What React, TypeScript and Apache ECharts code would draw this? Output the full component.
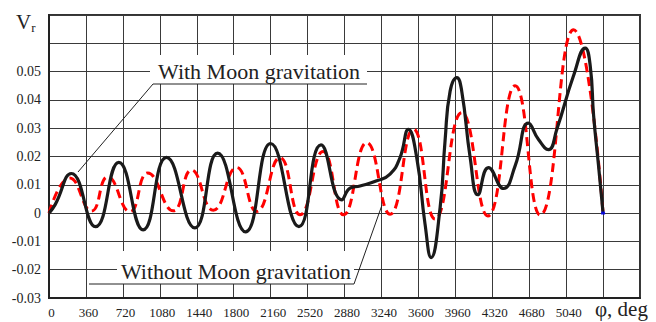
import React, { useEffect, useRef } from "react";
import * as echarts from "echarts";

// Angle φ (deg) and radial velocity Vr
const withMoonDeg = [0, 60, 218, 453, 680, 917, 1145, 1421, 1643, 1916, 2160, 2436, 2651, 2853, 2934, 3031, 3194, 3324, 3421, 3503, 3584, 3665, 3724, 3812, 3860, 3909, 3975, 4023, 4105, 4180, 4283, 4430, 4543, 4673, 4771, 4868, 4950, 5112, 5226, 5275, 5308, 5356, 5400];
const withMoonVr = [0, 0.003, 0.014, -0.0048, 0.0179, -0.0059, 0.0197, -0.0052, 0.0212, -0.0066, 0.0246, -0.0048, 0.0241, 0.0047, 0.0088, 0.0096, 0.0114, 0.0138, 0.0196, 0.0296, 0.0196, -0.0039, -0.0157, 0.002, 0.0255, 0.043, 0.0479, 0.043, 0.0196, 0.0065, 0.0161, 0.0087, 0.0167, 0.0318, 0.026, 0.0224, 0.0297, 0.0485, 0.0583, 0.052, 0.0344, 0.0167, 0];

const withoutMoonDeg = [0, 202, 414, 573, 788, 963, 1211, 1389, 1601, 1828, 2024, 2251, 2447, 2671, 2870, 3097, 3324, 3551, 3763, 4023, 4277, 4543, 4787, 5112, 5400];
const withoutMoonVr = [0, 0.0124, 0.0007, 0.0128, 0.0005, 0.0142, 0.0008, 0.0152, 0.001, 0.0161, 0.0006, 0.0196, -0.0006, 0.0218, -0.0006, 0.0249, -0.0004, 0.0297, -0.0021, 0.0355, -0.001, 0.045, -0.0007, 0.0648, 0];

const xTickLabels = ["0", "360", "720", "1080", "1440", "1800", "2160", "2520", "2880", "3240", "3600", "3960", "4320", "4680", "5040", "", ""];
const yTickLabels = ["-0.03", "-0.02", "-0.01", "0", "0.01", "0.02", "0.03", "0.04", "0.05", "", ""];

const FONT = "'Liberation Serif', 'Times New Roman', serif";

export default function App() {
  const ref = useRef<HTMLDivElement>(null);
  useEffect(() => {
    if (!ref.current) return;
    const chart = echarts.init(ref.current, undefined, { renderer: "svg" });
    const zip = (xs: number[], ys: number[]) => xs.map((x, i) => [x, ys[i]]);
    chart.setOption({
      animation: false,
      backgroundColor: "#ffffff",
      grid: { left: 49, right: 16, top: 15, bottom: 24, show: true, borderColor: "#333", borderWidth: 2 },
      xAxis: {
        type: "value",
        min: 0,
        max: 5760,
        interval: 360,
        axisLine: { show: true, onZero: false, lineStyle: { color: "#222", width: 2 } },
        axisTick: { show: false },
        splitLine: { show: true, lineStyle: { color: "#3a3a3a", width: 1 } },
        axisLabel: {
          formatter: (v: number) => xTickLabels[Math.round(v / 360)] ?? "",
          fontFamily: FONT,
          fontSize: 13,
          color: "#222",
          margin: 8,
          padding: [0, 0, 0, 5],
          showMaxLabel: true,
          showMinLabel: true,
        },
      },
      yAxis: {
        type: "value",
        min: -0.03,
        max: 0.07,
        interval: 0.01,
        axisLine: { show: true, onZero: false, lineStyle: { color: "#222", width: 2 } },
        axisTick: { show: false },
        splitLine: { show: true, lineStyle: { color: "#3a3a3a", width: 1 } },
        axisLabel: {
          formatter: (v: number) => yTickLabels[Math.round(v * 100) + 3] ?? "",
          fontFamily: FONT,
          fontSize: 14,
          color: "#222",
          margin: 8,
          padding: [4, 0, 0, 0],
        },
      },
      series: [
        {
          name: "Without Moon gravitation",
          type: "line",
          data: zip(withoutMoonDeg, withoutMoonVr),
          smooth: 0.5,
          showSymbol: false,
          lineStyle: { color: "#ff0000", width: 3, type: [9, 5] },
          z: 2,
        },
        {
          name: "With Moon gravitation",
          type: "line",
          data: zip(withMoonDeg, withMoonVr),
          smooth: 0.5,
          showSymbol: false,
          lineStyle: { color: "#1a1a1a", width: 3.2 },
          z: 3,
        },
        {
          type: "scatter",
          data: [[withMoonDeg[withMoonDeg.length - 1], withMoonVr[withMoonVr.length - 1]]],
          symbol: "rect",
          symbolSize: [4, 3],
          itemStyle: { color: "#0000ff" },
          z: 4,
        },
      ],
      graphic: [
        {
          type: "text",
          left: 16,
          top: 11,
          style: {
            text: "{a|V}{b|r}",
            rich: {
              a: { fontFamily: FONT, fontSize: 21, fill: "#222" },
              b: { fontFamily: FONT, fontSize: 13, fill: "#222", padding: [12, 0, 0, 0] },
            },
          },
        },
        {
          type: "text",
          x: 595,
          y: 309,
          style: { text: "φ, deg", fontFamily: FONT, fontSize: 21, fill: "#222", align: "left", verticalAlign: "middle" },
        },
        { type: "rect", shape: { x: 150, y: 55, width: 217, height: 29 }, style: { fill: "#fff" }, z: 10 },
        {
          type: "text",
          x: 259,
          y: 71,
          style: { text: "With Moon gravitation", fontFamily: FONT, fontSize: 22, fill: "#222", align: "center", verticalAlign: "middle" },
          z: 11,
        },
        { type: "line", shape: { x1: 153, y1: 84, x2: 367, y2: 84 }, style: { stroke: "#222", lineWidth: 1 }, z: 11 },
        { type: "line", shape: { x1: 153, y1: 84, x2: 78, y2: 172 }, style: { stroke: "#222", lineWidth: 1 }, z: 11 },
        { type: "rect", shape: { x: 117, y: 251, width: 237, height: 33 }, style: { fill: "#fff" }, z: 10 },
        {
          type: "text",
          x: 236,
          y: 271,
          style: { text: "Without Moon gravitation", fontFamily: FONT, fontSize: 22, fill: "#222", align: "center", verticalAlign: "middle" },
          z: 11,
        },
        { type: "line", shape: { x1: 89, y1: 284, x2: 354, y2: 284 }, style: { stroke: "#222", lineWidth: 1 }, z: 11 },
        { type: "line", shape: { x1: 354, y1: 284, x2: 382, y2: 205 }, style: { stroke: "#222", lineWidth: 1 }, z: 11 },
      ],
    });
    return () => chart.dispose();
  }, []);
  return <div ref={ref} style={{ position: "fixed", left: 0, top: 0, width: 656, height: 322 }} />;
}
